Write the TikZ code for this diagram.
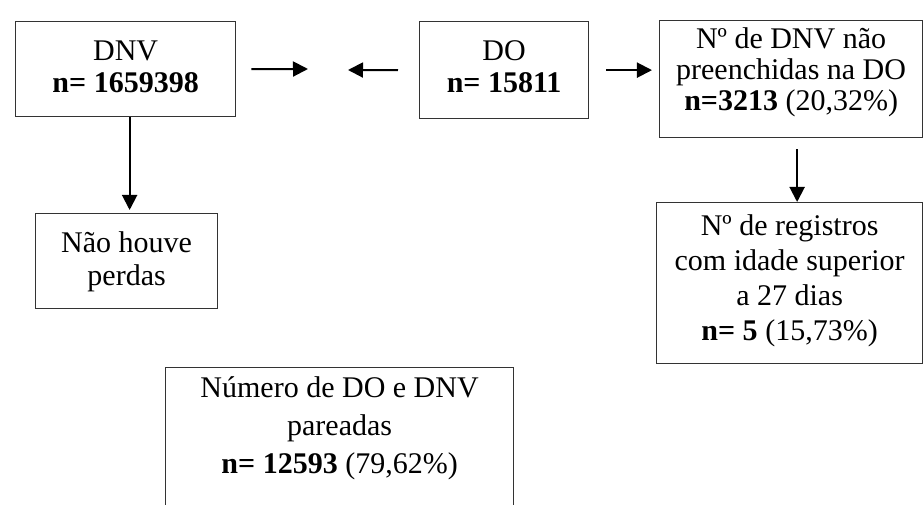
\documentclass[tikz,border=0pt]{standalone}
\usepackage{fontspec}
\setmainfont{Liberation Serif}
\usetikzlibrary{arrows.meta}
\tikzset{every node/.style={font=\fontsize{12}{13.2}\selectfont},line cap=round,line join=round}
\tikzset{
  caixa/.style={draw=black!80,line width=0.5pt,anchor=north west,align=flush center,inner sep=0pt},
  seta/.style={line width=0.8pt,-{Triangle[length=6pt,width=6pt]}}
}

\begin{document}
\begin{tikzpicture}[x=0.4pt,y=-0.4pt]
  \path[use as bounding box] (0,0) rectangle (923,505);
  % caixas
  \node[caixa,text width=88pt,text height=15.6pt,text depth=22.4pt,font=\fontsize{12}{12.8}\selectfont]
    (dnv) at (15,21) {DNV\\\textbf{n= 1659398}};
  \node[caixa,text width=67.6pt,text height=15.6pt,text depth=23.2pt,font=\fontsize{12}{12.8}\selectfont]
    (do) at (419,21) {DO\\\textbf{n= 15811}};
  \node[caixa,text width=105.2pt,text height=11.2pt,text depth=35.6pt,font=\fontsize{12}{12.4}\selectfont]
    (naopreench) at (659,20) {Nº de DNV não\\preenchidas na DO\\\textbf{n=3213} (20,32\%)};
  \node[caixa,text width=106.4pt,text height=13.2pt,text depth=51.2pt,font=\fontsize{12}{14}\selectfont]
    (registros) at (656,202) {Nº de registros\\com idade superior\\a 27 dias\\\textbf{n= 5} (15,73\%)};
  \node[caixa,text width=72.8pt,text height=15.6pt,text depth=22.4pt]
    (perdas) at (35,213) {Não houve\\perdas};
  \node[caixa,text width=139.2pt,text height=12pt,text depth=60pt,font=\fontsize{12}{15.2}\selectfont]
    (pareadas) at (165,367) {Número de DO e DNV\\pareadas\\\textbf{n= 12593} (79,62\%)};
  % setas
  \coordinate (fimA) at (308,69);
  \coordinate (fimB) at (348,70);
  \draw[seta,shorten <=6pt] (dnv.east) -- (fimA);
  \draw[seta,shorten <=8.4pt] (do.west) -- (fimB);
  \draw[seta,shorten <=6.8pt,shorten >=2.8pt] (do.east) -- (do.east -| naopreench.west);
  \draw[seta,shorten <=4.4pt] ([xshift=2.4pt]naopreench.south) -- ([xshift=2.4pt]naopreench.south |- registros.north);
  \draw[seta,shorten >=1.2pt] ([xshift=1.6pt]dnv.south) -- ([xshift=1.6pt]dnv.south |- perdas.north);
\end{tikzpicture}
\end{document}
